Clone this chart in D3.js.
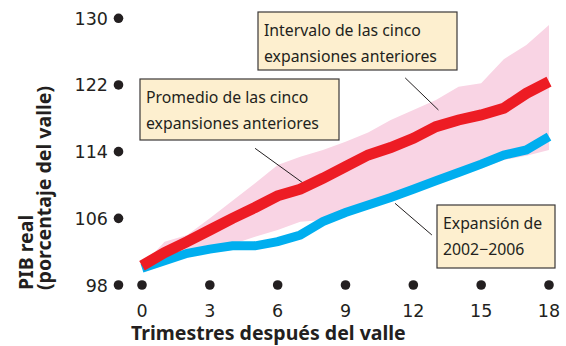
<!DOCTYPE html>
<html>
  <head>
    <meta charset="utf-8">
    <title>PIB real</title>
    <script src="https://cdn.jsdelivr.net/npm/d3@7"></script>
    <style>
      body { margin: 0; background: #fff; }
      .tick_label { font-family: 'DejaVu Sans'; font-size: 17.5px; fill: #231f20; }
      .axis_title { font-family: 'Noto Sans'; font-size: 19.5px; font-weight: bold; fill: #231f20; }
      .note { font-family: 'Noto Sans'; font-size: 15.8px; fill: #231f20; }
      .note_box { fill: #fdefcf; stroke: #3b3838; stroke-width: 1.2px; }
      .leader { stroke: #231f20; stroke-width: 1px; }
    </style>
  </head>
  <body>
    <script>

      var width = 566;
      var height = 346;

      // data
      var quarters = [0, 1, 2, 3, 4, 5, 6, 7, 8, 9, 10, 11, 12, 13, 14, 15, 16, 17, 18];
      var average = [100.3, 101.9, 103.2, 104.6, 106.0, 107.3, 108.7, 109.5, 110.8, 112.2,
                     113.6, 114.5, 115.6, 117.0, 117.8, 118.4, 119.2, 121.0, 122.4];
      var expansion0206 = [100.0, 100.9, 101.8, 102.3, 102.7, 102.7, 103.2, 104.0, 105.6, 106.7,
                           107.6, 108.5, 109.5, 110.5, 111.5, 112.5, 113.6, 114.2, 115.8];
      var rangeHigh = [100.3, 103.2, 104.0, 106.0, 108.1, 110.2, 112.4, 113.4, 114.2, 115.2,
                       116.3, 117.8, 119.0, 120.2, 121.8, 122.2, 125.1, 126.8, 129.2];
      var rangeLow = [100.0, 100.8, 101.6, 102.2, 102.9, 103.8, 104.6, 105.6, 105.8, 106.3,
                      107.2, 108.2, 109.2, 110.2, 111.2, 112.0, 113.0, 113.5, 114.2];

      var yTicks = [98, 106, 114, 122, 130];
      var xTicks = [0, 3, 6, 9, 12, 15, 18];

      var svg = d3.select("body").append("svg")
        .attr("width", width)
        .attr("height", height);

      var x = d3.scaleLinear().domain([0, 18]).range([142, 549]);
      var y = d3.scaleLinear().domain([98, 130]).range([285, 18.3]);

      // pink band
      var area = d3.area()
        .x(function(d, i) { return x(quarters[i]); })
        .y0(function(d, i) { return y(rangeLow[i]); })
        .y1(function(d) { return y(d); });

      svg.append("path")
        .datum(rangeHigh)
        .attr("d", area)
        .attr("fill", "#f9d4e4");

      // annotation leaders (in data units)
      var leaders = [
        [[11.64, 122.85], [13.11, 119.0]],
        [[5.0, 114.4], [7.14, 110.2]],
        [[11.19, 107.8], [12.82, 104.0]]
      ];
      svg.selectAll(".leader")
        .data(leaders)
        .enter()
        .append("line")
        .attr("class", "leader")
        .attr("x1", function(d) { return x(d[0][0]); })
        .attr("y1", function(d) { return y(d[0][1]); })
        .attr("x2", function(d) { return x(d[1][0]); })
        .attr("y2", function(d) { return y(d[1][1]); });

      var line = d3.line()
        .x(function(d, i) { return x(quarters[i]); })
        .y(function(d) { return y(d); });

      svg.append("path")
        .datum(expansion0206)
        .attr("d", line)
        .attr("fill", "none")
        .attr("stroke", "#00aeef")
        .attr("stroke-width", 9);

      svg.append("path")
        .datum(average)
        .attr("d", line)
        .attr("fill", "none")
        .attr("stroke", "#ed1c24")
        .attr("stroke-width", 11);

      // y axis: dots + labels
      svg.selectAll(".ydot")
        .data(yTicks)
        .enter()
        .append("circle")
        .attr("cx", 118.5)
        .attr("cy", function(d) { return y(d); })
        .attr("r", 4.8)
        .attr("fill", "#231f20");

      svg.selectAll(".ylab")
        .data(yTicks)
        .enter()
        .append("text")
        .attr("class", "tick_label")
        .attr("x", 108)
        .attr("y", function(d) { return y(d) + 6.5; })
        .attr("text-anchor", "end")
        .text(function(d) { return d; });

      // x axis: dots + labels
      svg.selectAll(".xdot")
        .data(xTicks)
        .enter()
        .append("circle")
        .attr("cx", function(d) { return x(d); })
        .attr("cy", y(98))
        .attr("r", 4.8)
        .attr("fill", "#231f20");

      svg.selectAll(".xlab")
        .data(xTicks)
        .enter()
        .append("text")
        .attr("class", "tick_label")
        .attr("x", function(d) { return x(d); })
        .attr("y", 317)
        .attr("text-anchor", "middle")
        .text(function(d) { return d; });

      svg.append("text")
        .attr("class", "axis_title")
        .attr("x", 131)
        .attr("y", 340)
        .text("Trimestres después del valle");

      var yTitle = svg.append("text")
        .attr("class", "axis_title")
        .attr("transform", "translate(0,290) rotate(-90)");
      yTitle.append("tspan").attr("x", 0).attr("y", 33).text("PIB real");
      yTitle.append("tspan").attr("x", 0).attr("y", 51).text("(porcentaje del valle)");

      // note boxes
      var notes = [
        { x: 258, y: 12, w: 199, h: 58, lines: ["Intervalo de las cinco", "expansiones anteriores"] },
        { x: 140, y: 79, w: 199, h: 61, lines: ["Promedio de las cinco", "expansiones anteriores"] },
        { x: 437, y: 205, w: 118, h: 63, lines: ["Expansión de", "2002\u22122006"] }
      ];

      var boxes = svg.selectAll(".note_g")
        .data(notes)
        .enter()
        .append("g");

      boxes.append("rect")
        .attr("class", "note_box")
        .attr("x", function(d) { return d.x; })
        .attr("y", function(d) { return d.y; })
        .attr("width", function(d) { return d.w; })
        .attr("height", function(d) { return d.h; });

      boxes.each(function(d) {
        var t = d3.select(this).append("text").attr("class", "note");
        d.lines.forEach(function(s, i) {
          t.append("tspan")
            .attr("x", d.x + 6)
            .attr("y", d.y + 23.5 + i * 26)
            .text(s);
        });
      });

    </script>
  </body>
</html>
